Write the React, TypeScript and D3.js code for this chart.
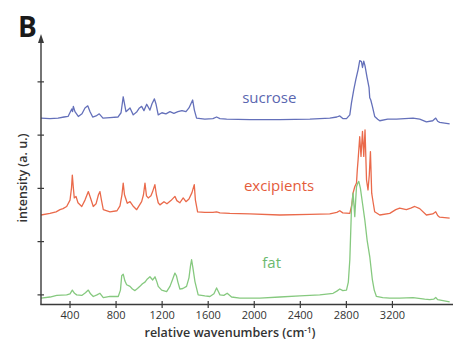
import { useMemo } from "react";
import * as d3 from "d3";

// wavenumber (cm-1), intensity (a.u., stacked as in the figure)
const sucrose: [number, number][] = [
  [148, 3.32], [226, 3.31], [296, 3.32], [348, 3.34], [383, 3.35], [415, 3.49], [422, 3.44],
  [429, 3.54], [443, 3.44], [472, 3.35], [504, 3.40], [530, 3.51], [554, 3.55], [574, 3.44],
  [597, 3.34], [626, 3.36], [654, 3.40], [686, 3.32], [747, 3.33], [816, 3.34], [843, 3.42],
  [862, 3.72], [886, 3.44], [921, 3.51], [949, 3.38], [981, 3.44], [1003, 3.51], [1022, 3.54],
  [1042, 3.46], [1066, 3.58], [1094, 3.47], [1112, 3.59], [1133, 3.68], [1146, 3.59],
  [1166, 3.38], [1198, 3.42], [1233, 3.40], [1268, 3.44], [1302, 3.41], [1337, 3.44],
  [1372, 3.46], [1407, 3.44], [1433, 3.51], [1465, 3.66], [1480, 3.47], [1499, 3.32],
  [1571, 3.30], [1641, 3.31], [1673, 3.34], [1702, 3.31], [1760, 3.30], [1962, 3.29],
  [2222, 3.29], [2483, 3.30], [2656, 3.32], [2717, 3.34], [2743, 3.36], [2769, 3.31],
  [2801, 3.31], [2830, 3.38], [2844, 3.60], [2864, 3.85], [2882, 4.04], [2902, 4.23],
  [2916, 4.40], [2931, 4.38], [2940, 4.27], [2951, 4.39], [2962, 4.30], [2980, 4.08],
  [2997, 3.89], [3003, 3.70], [3012, 3.66], [3026, 3.54], [3046, 3.35], [3072, 3.30],
  [3090, 3.27], [3159, 3.30], [3235, 3.30], [3307, 3.31], [3379, 3.32], [3437, 3.30],
  [3495, 3.25], [3550, 3.27], [3576, 3.32], [3593, 3.26], [3610, 3.24], [3697, 3.21],
];

const excipients: [number, number][] = [
  [148, 1.50], [226, 1.53], [279, 1.56], [313, 1.60], [339, 1.62], [371, 1.66], [400, 1.78],
  [413, 2.01], [420, 2.25], [429, 2.01], [437, 1.82], [452, 1.85], [469, 1.73], [502, 1.66],
  [530, 1.78], [559, 1.94], [578, 1.82], [602, 1.66], [626, 1.71], [647, 1.88], [660, 1.94],
  [673, 1.78], [689, 1.60], [747, 1.56], [808, 1.58], [834, 1.67], [851, 1.88], [862, 2.10],
  [873, 1.88], [897, 1.72], [921, 1.75], [947, 1.67], [979, 1.60], [1022, 1.75], [1038, 1.88],
  [1051, 2.10], [1064, 1.86], [1079, 1.82], [1103, 1.86], [1116, 1.93], [1137, 2.07],
  [1150, 1.88], [1166, 1.73], [1181, 1.69], [1216, 1.75], [1242, 1.71], [1276, 1.77],
  [1311, 1.85], [1328, 1.77], [1354, 1.73], [1383, 1.82], [1407, 1.75], [1433, 1.80],
  [1459, 1.92], [1479, 2.07], [1489, 1.78], [1508, 1.56], [1571, 1.55], [1641, 1.55],
  [1673, 1.56], [1702, 1.54], [1788, 1.53], [1962, 1.52], [2222, 1.50], [2483, 1.51],
  [2656, 1.52], [2717, 1.55], [2743, 1.58], [2769, 1.54], [2830, 1.53], [2847, 1.69],
  [2858, 1.91], [2873, 2.03], [2888, 2.10], [2895, 2.35], [2902, 2.54], [2916, 2.97],
  [2927, 2.60], [2940, 3.07], [2951, 2.60], [2962, 3.10], [2975, 2.16], [2988, 1.97],
  [2999, 2.25], [3009, 2.69], [3020, 1.91], [3033, 1.73], [3046, 1.56], [3090, 1.50],
  [3177, 1.53], [3229, 1.60], [3263, 1.63], [3321, 1.60], [3359, 1.63], [3394, 1.66],
  [3437, 1.62], [3495, 1.50], [3550, 1.52], [3576, 1.56], [3593, 1.49], [3610, 1.46],
  [3697, 1.44],
];

const fat: [number, number][] = [
  [148, -0.06], [226, -0.04], [285, -0.01], [371, 0.00], [400, 0.02], [420, 0.09], [439, 0.03],
  [458, 0.00], [502, -0.01], [534, 0.04], [559, 0.09], [578, 0.02], [602, -0.03], [634, 0.00],
  [660, 0.03], [689, -0.05], [747, -0.03], [819, -0.03], [838, 0.09], [849, 0.36], [862, 0.39],
  [877, 0.26], [892, 0.19], [921, 0.16], [942, 0.11], [964, 0.08], [986, 0.12], [1007, 0.16],
  [1029, 0.21], [1051, 0.24], [1072, 0.30], [1094, 0.34], [1118, 0.28], [1138, 0.34],
  [1155, 0.24], [1166, 0.16], [1196, 0.09], [1239, 0.06], [1268, 0.16], [1289, 0.28],
  [1311, 0.41], [1324, 0.36], [1337, 0.24], [1354, 0.11], [1380, 0.12], [1412, 0.16],
  [1433, 0.32], [1446, 0.54], [1456, 0.66], [1467, 0.51], [1485, 0.25], [1513, 0.00],
  [1571, -0.02], [1615, -0.03], [1650, 0.02], [1673, 0.13], [1689, 0.06], [1702, 0.00],
  [1736, -0.01], [1765, 0.03], [1803, -0.04], [1875, -0.06], [2049, -0.06], [2222, -0.04],
  [2396, -0.02], [2569, 0.00], [2685, 0.03], [2717, 0.07], [2743, 0.11], [2769, 0.08],
  [2801, 0.09], [2817, 0.24], [2830, 0.66], [2844, 1.60], [2858, 1.91], [2866, 1.69],
  [2873, 1.47], [2881, 1.78], [2888, 2.03], [2899, 2.10], [2908, 2.13], [2922, 2.00],
  [2940, 1.72], [2960, 1.41], [2980, 1.03], [3003, 0.72], [3026, 0.28], [3042, 0.09],
  [3061, -0.03], [3116, -0.05], [3177, -0.06], [3263, -0.06], [3379, -0.05], [3480, -0.08],
  [3524, -0.09], [3558, -0.08], [3576, -0.05], [3593, -0.09], [3697, -0.13],
];

const xTicks = [400, 800, 1200, 1600, 2000, 2400, 2800, 3200];
const yTicks = [0, 1, 2, 3, 4];

const seriesNames = ["sucrose", "excipients", "fat"];
const seriesData = [sucrose, excipients, fat];
const lineColors = ["#6470ba", "#ea6a4b", "#86c97f"];
const labelColors = ["#5a66b0", "#e45c3c", "#6cba6e"];
// label anchor (wavenumber, intensity) for each series name
const labelAt: [number, number][] = [[1895, 3.6], [1910, 1.96], [2070, 0.5]];

export default function App() {
  const W = 453, H = 344;
  const left = 41, axisY = 304.5;

  const x = d3.scaleLinear().domain([148, 3700]).range([left, 450]);
  const y = d3.scaleLinear().domain([-0.19, 4.88]).range([305, 35]);

  const line = useMemo(
    () => d3.line<[number, number]>().x(d => x(d[0])).y(d => y(d[1])),
    []
  );

  const font = "'Open Sans', sans-serif";
  const axisColor = "#3a3a3a";

  return (
    <svg width={W} height={H} style={{ position: "absolute", left: 0, top: 0, background: "#fff" }}>
      <text x={18} y={37} fontFamily={font} fontWeight="bold" fontSize={28} fill="#1a1a1a">B</text>

      {/* spectra */}
      {seriesData.map((d, i) => (
        <path key={i} d={line(d)!} fill="none" stroke={lineColors[i]} strokeWidth={1.3} strokeLinejoin="round" />
      ))}

      {/* series labels */}
      {seriesNames.map((n, i) => (
        <text key={n} x={x(labelAt[i][0])} y={y(labelAt[i][1])} fontFamily={font} fontSize={15} fill={labelColors[i]}>{n}</text>
      ))}

      {/* y axis with arrow */}
      <line x1={left} x2={left} y1={axisY} y2={42} stroke={axisColor} strokeWidth={1.4} />
      <path d={`M${left - 3},${43} L${left},${34} L${left + 3},${43} Z`} fill={axisColor} />
      {yTicks.map(t => (
        <line key={t} x1={left - 3.5} x2={left + 3} y1={y(t)} y2={y(t)} stroke={axisColor} strokeWidth={1.2} />
      ))}

      {/* x axis */}
      <line x1={left - 0.7} x2={W} y1={axisY} y2={axisY} stroke={axisColor} strokeWidth={1.4} />
      {xTicks.map(t => (
        <g key={t} transform={`translate(${x(t)},0)`}>
          <line y1={axisY - 3.5} y2={axisY + 3.5} stroke={axisColor} strokeWidth={1.2} />
          <text y={319} textAnchor="middle" fontFamily={font} fontSize={11} fill="#333">{t}</text>
        </g>
      ))}

      <text x={230} y={337} textAnchor="middle" fontFamily={font} fontWeight={600} fontSize={12.5} fill="#333">
        relative wavenumbers (cm
        <tspan dy={-4} fontSize={8}>-1</tspan>
        <tspan dy={4}>)</tspan>
      </text>
      <text transform="translate(27,178) rotate(-90)" textAnchor="middle" fontFamily={font} fontWeight={600} fontSize={12.5} fill="#333">
        intensity (a. u.)
      </text>
    </svg>
  );
}
